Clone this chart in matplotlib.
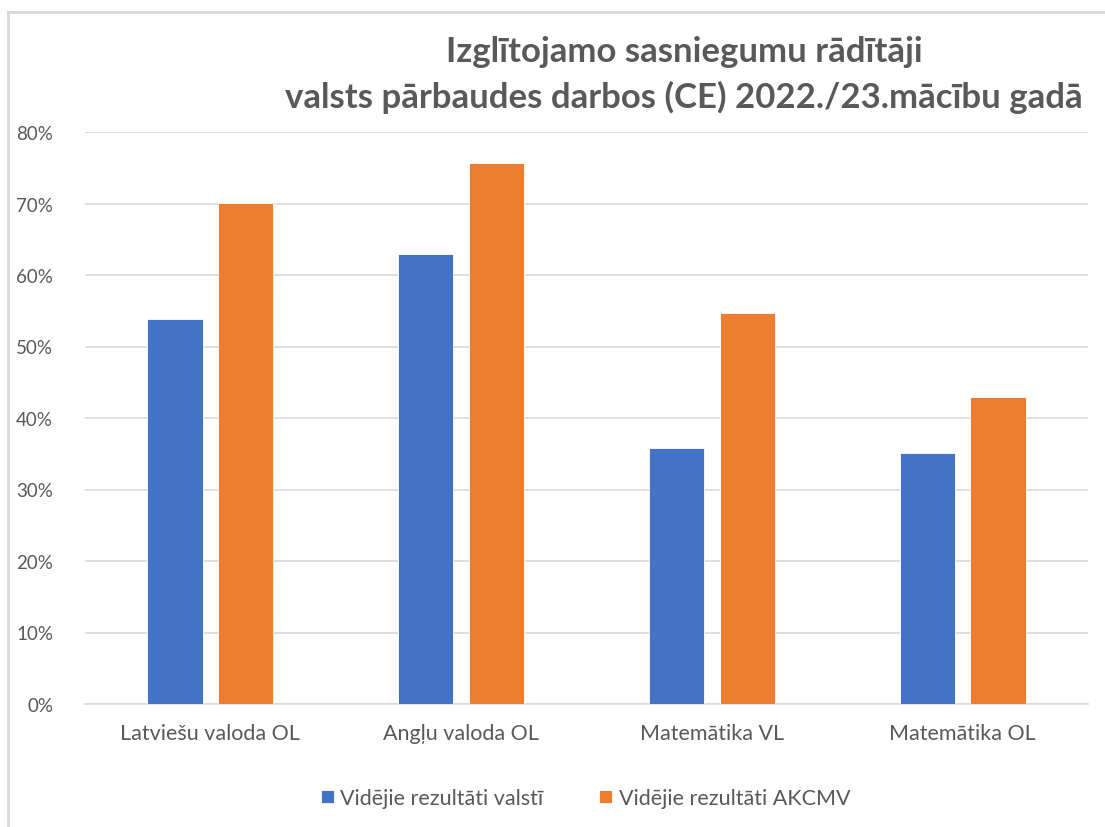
import matplotlib
matplotlib.use("Agg")
import matplotlib.pyplot as plt
import numpy as np
from matplotlib.lines import Line2D
from matplotlib.ticker import PercentFormatter

categories = ["Latviešu valoda OL", "Angļu valoda OL", "Matemātika VL", "Matemātika OL"]
valsti = [0.538, 0.629, 0.358, 0.351]
akcmv = [0.701, 0.757, 0.547, 0.429]
series_names = ["Vidējie rezultāti valstī", "Vidējie rezultāti AKCMV"]
y_ticks = [0.0, 0.1, 0.2, 0.3, 0.4, 0.5, 0.6, 0.7, 0.8]

plt.rcParams['font.family'] = ['Lato', 'DejaVu Sans']

BLUE = "#4472C4"
ORANGE = "#ED7D31"
TEXT = "#595959"
GRID = "#d9d9d9"

fig = plt.figure(figsize=(11.05, 8.28), dpi=100)
ax = fig.add_axes([85 / 1105, 1 - 705 / 828, (1088 - 85) / 1105, (705 - 133) / 828])

x = np.arange(len(categories))
width = 0.22
offset = 0.141
ax.bar(x - offset, valsti, width, color=BLUE, edgecolor="white", linewidth=0.6,
       label=series_names[0], zorder=3)
ax.bar(x + offset, akcmv, width, color=ORANGE, edgecolor="white", linewidth=0.6,
       label=series_names[1], zorder=3)

ax.set_xlim(-0.5, len(categories) - 0.5)
ax.set_ylim(0, 0.8)
ax.set_yticks(y_ticks)
ax.yaxis.set_major_formatter(PercentFormatter(1.0, decimals=0))
ax.set_xticks(x)
ax.set_xticklabels(categories, fontsize=15.5)
ax.grid(axis="y", color=GRID, linewidth=1.2, zorder=0)
for side in ["top", "right", "left"]:
    ax.spines[side].set_visible(False)
ax.spines["bottom"].set_color(GRID)
ax.spines["bottom"].set_linewidth(1.2)
ax.tick_params(axis="both", length=0, colors=TEXT)
ax.tick_params(axis="y", pad=23, labelsize=13.5)
ax.tick_params(axis="x", pad=14)

fig.text(0.619, 1 - 52 / 828, "Izglītojamo sasniegumu rādītāji", ha="center", va="center",
         fontsize=25, fontweight="bold", color=TEXT)
fig.text(0.619, 1 - 97 / 828, "valsts pārbaudes darbos (CE) 2022./23.mācību gadā", ha="center",
         va="center", fontsize=25, fontweight="bold", color=TEXT)

fig.legend(loc="center", bbox_to_anchor=(0.53, 1 - 799 / 828), ncol=2, frameon=False,
           fontsize=15.5, labelcolor=TEXT, handlelength=0.6, handleheight=0.6,
           handletextpad=0.3, columnspacing=2.6)

# chart area border (left and top edges)
fig.add_artist(Line2D([8 / 1105, 8 / 1105], [0, 1 - 13 / 828], transform=fig.transFigure,
                      color=GRID, linewidth=2))
fig.add_artist(Line2D([8 / 1105, 1], [1 - 13 / 828, 1 - 13 / 828], transform=fig.transFigure,
                      color=GRID, linewidth=2))

fig.savefig("out.png", dpi=100, facecolor="white")
